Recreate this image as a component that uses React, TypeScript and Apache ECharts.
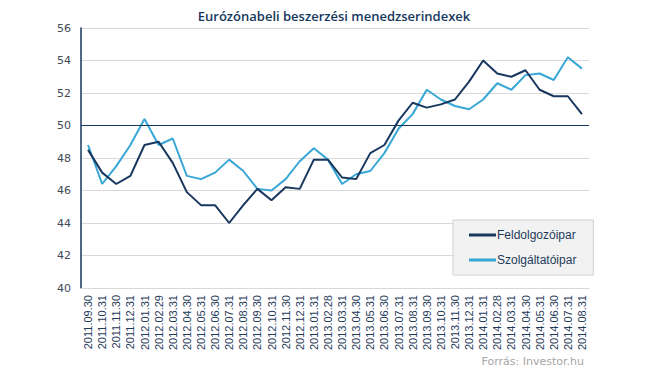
import React, { useEffect, useRef } from "react";
import * as echarts from "echarts";

const categories = [
  "2011.09.30", "2011.10.31", "2011.11.30", "2011.12.31",
  "2012.01.31", "2012.02.29", "2012.03.31", "2012.04.30", "2012.05.31", "2012.06.30",
  "2012.07.31", "2012.08.31", "2012.09.30", "2012.10.31", "2012.11.30", "2012.12.31",
  "2013.01.31", "2013.02.28", "2013.03.31", "2013.04.30", "2013.05.31", "2013.06.30",
  "2013.07.31", "2013.08.31", "2013.09.30", "2013.10.31", "2013.11.30", "2013.12.31",
  "2014.01.31", "2014.02.28", "2014.03.31", "2014.04.30", "2014.05.31", "2014.06.30",
  "2014.07.31", "2014.08.31",
];

const manufacturing = [
  48.5, 47.1, 46.4, 46.9, 48.8, 49.0, 47.7, 45.9, 45.1, 45.1, 44.0, 45.1,
  46.1, 45.4, 46.2, 46.1, 47.9, 47.9, 46.8, 46.7, 48.3, 48.8, 50.3, 51.4,
  51.1, 51.3, 51.6, 52.7, 54.0, 53.2, 53.0, 53.4, 52.2, 51.8, 51.8, 50.7,
];

const services = [
  48.8, 46.4, 47.5, 48.8, 50.4, 48.8, 49.2, 46.9, 46.7, 47.1, 47.9, 47.2,
  46.1, 46.0, 46.7, 47.8, 48.6, 47.9, 46.4, 47.0, 47.2, 48.3, 49.8, 50.7,
  52.2, 51.6, 51.2, 51.0, 51.6, 52.6, 52.2, 53.1, 53.2, 52.8, 54.2, 53.5,
];

const seriesNames = ["Feldolgozóipar", "Szolgáltatóipar"];
const titleText = "Eurózónabeli beszerzési menedzserindexek";
const sourceText = "Forrás: Investor.hu";

export default function App() {
  const ref = useRef<HTMLDivElement>(null);
  useEffect(() => {
    document.body.style.margin = "0";
    if (!ref.current) return;
    const chart = echarts.init(ref.current, null, { renderer: "svg" });
    chart.setOption({
      animation: false,
      backgroundColor: "#ffffff",
      title: {
        text: titleText,
        left: 329,
        top: 4,
        textAlign: "center",
        textStyle: {
          fontFamily: "Open Sans",
          fontSize: 13,
          fontWeight: 600,
          color: "#17375e",
        },
      },
      graphic: [
        {
          type: "text",
          right: 61,
          top: 356,
          style: {
            text: sourceText,
            fontFamily: "DejaVu Sans",
            fontSize: 11,
            fill: "#a6a6a6",
          },
        },
      ],
      legend: {
        orient: "vertical",
        left: 453,
        top: 220,
        padding: [9, 17, 9, 16],
        itemGap: 13,
        itemWidth: 27,
        itemHeight: 3,
        icon: "rect",
        backgroundColor: "#f2f2f2",
        borderColor: "#d0d0d0",
        borderWidth: 1,
        textStyle: {
          fontFamily: "Liberation Sans",
          fontSize: 12,
          color: "#1f3b5a",
          padding: [0, 0, 0, -4],
        },
        data: seriesNames,
      },
      grid: { left: 81, right: 56, top: 28, bottom: 88 },
      xAxis: {
        type: "category",
        data: categories,
        boundaryGap: true,
        axisLine: { show: true, lineStyle: { color: "#d9d9d9" } },
        axisTick: { show: false },
        axisLabel: {
          rotate: 90,
          interval: 0,
          margin: 7,
          fontFamily: "Liberation Sans",
          fontSize: 11,
          color: "#1f3b5a",
        },
      },
      yAxis: {
        type: "value",
        min: 40,
        max: 56,
        interval: 2,
        axisLine: { show: true, lineStyle: { color: "#17375e", width: 1.5 } },
        axisTick: { show: false },
        axisLabel: {
          margin: 10,
          fontFamily: "DejaVu Sans",
          fontSize: 11,
          color: "#404a55",
        },
        splitLine: { lineStyle: { color: "#d9d9d9", width: 1 } },
      },
      series: [
        {
          name: seriesNames[0],
          type: "line",
          data: manufacturing,
          showSymbol: false,
          symbol: "none",
          color: "#17375e",
          lineStyle: { color: "#17375e", width: 2 },
          z: 3,
          markLine: {
            silent: true,
            symbol: "none",
            label: { show: false },
            lineStyle: { color: "#17375e", width: 1.2, type: "solid" },
            data: [{ yAxis: 50 }],
          },
        },
        {
          name: seriesNames[1],
          type: "line",
          data: services,
          showSymbol: false,
          symbol: "none",
          color: "#38a7d6",
          lineStyle: { color: "#38a7d6", width: 2 },
          z: 2,
        },
      ],
    });
    return () => chart.dispose();
  }, []);
  return <div ref={ref} style={{ width: 645, height: 376 }} />;
}
